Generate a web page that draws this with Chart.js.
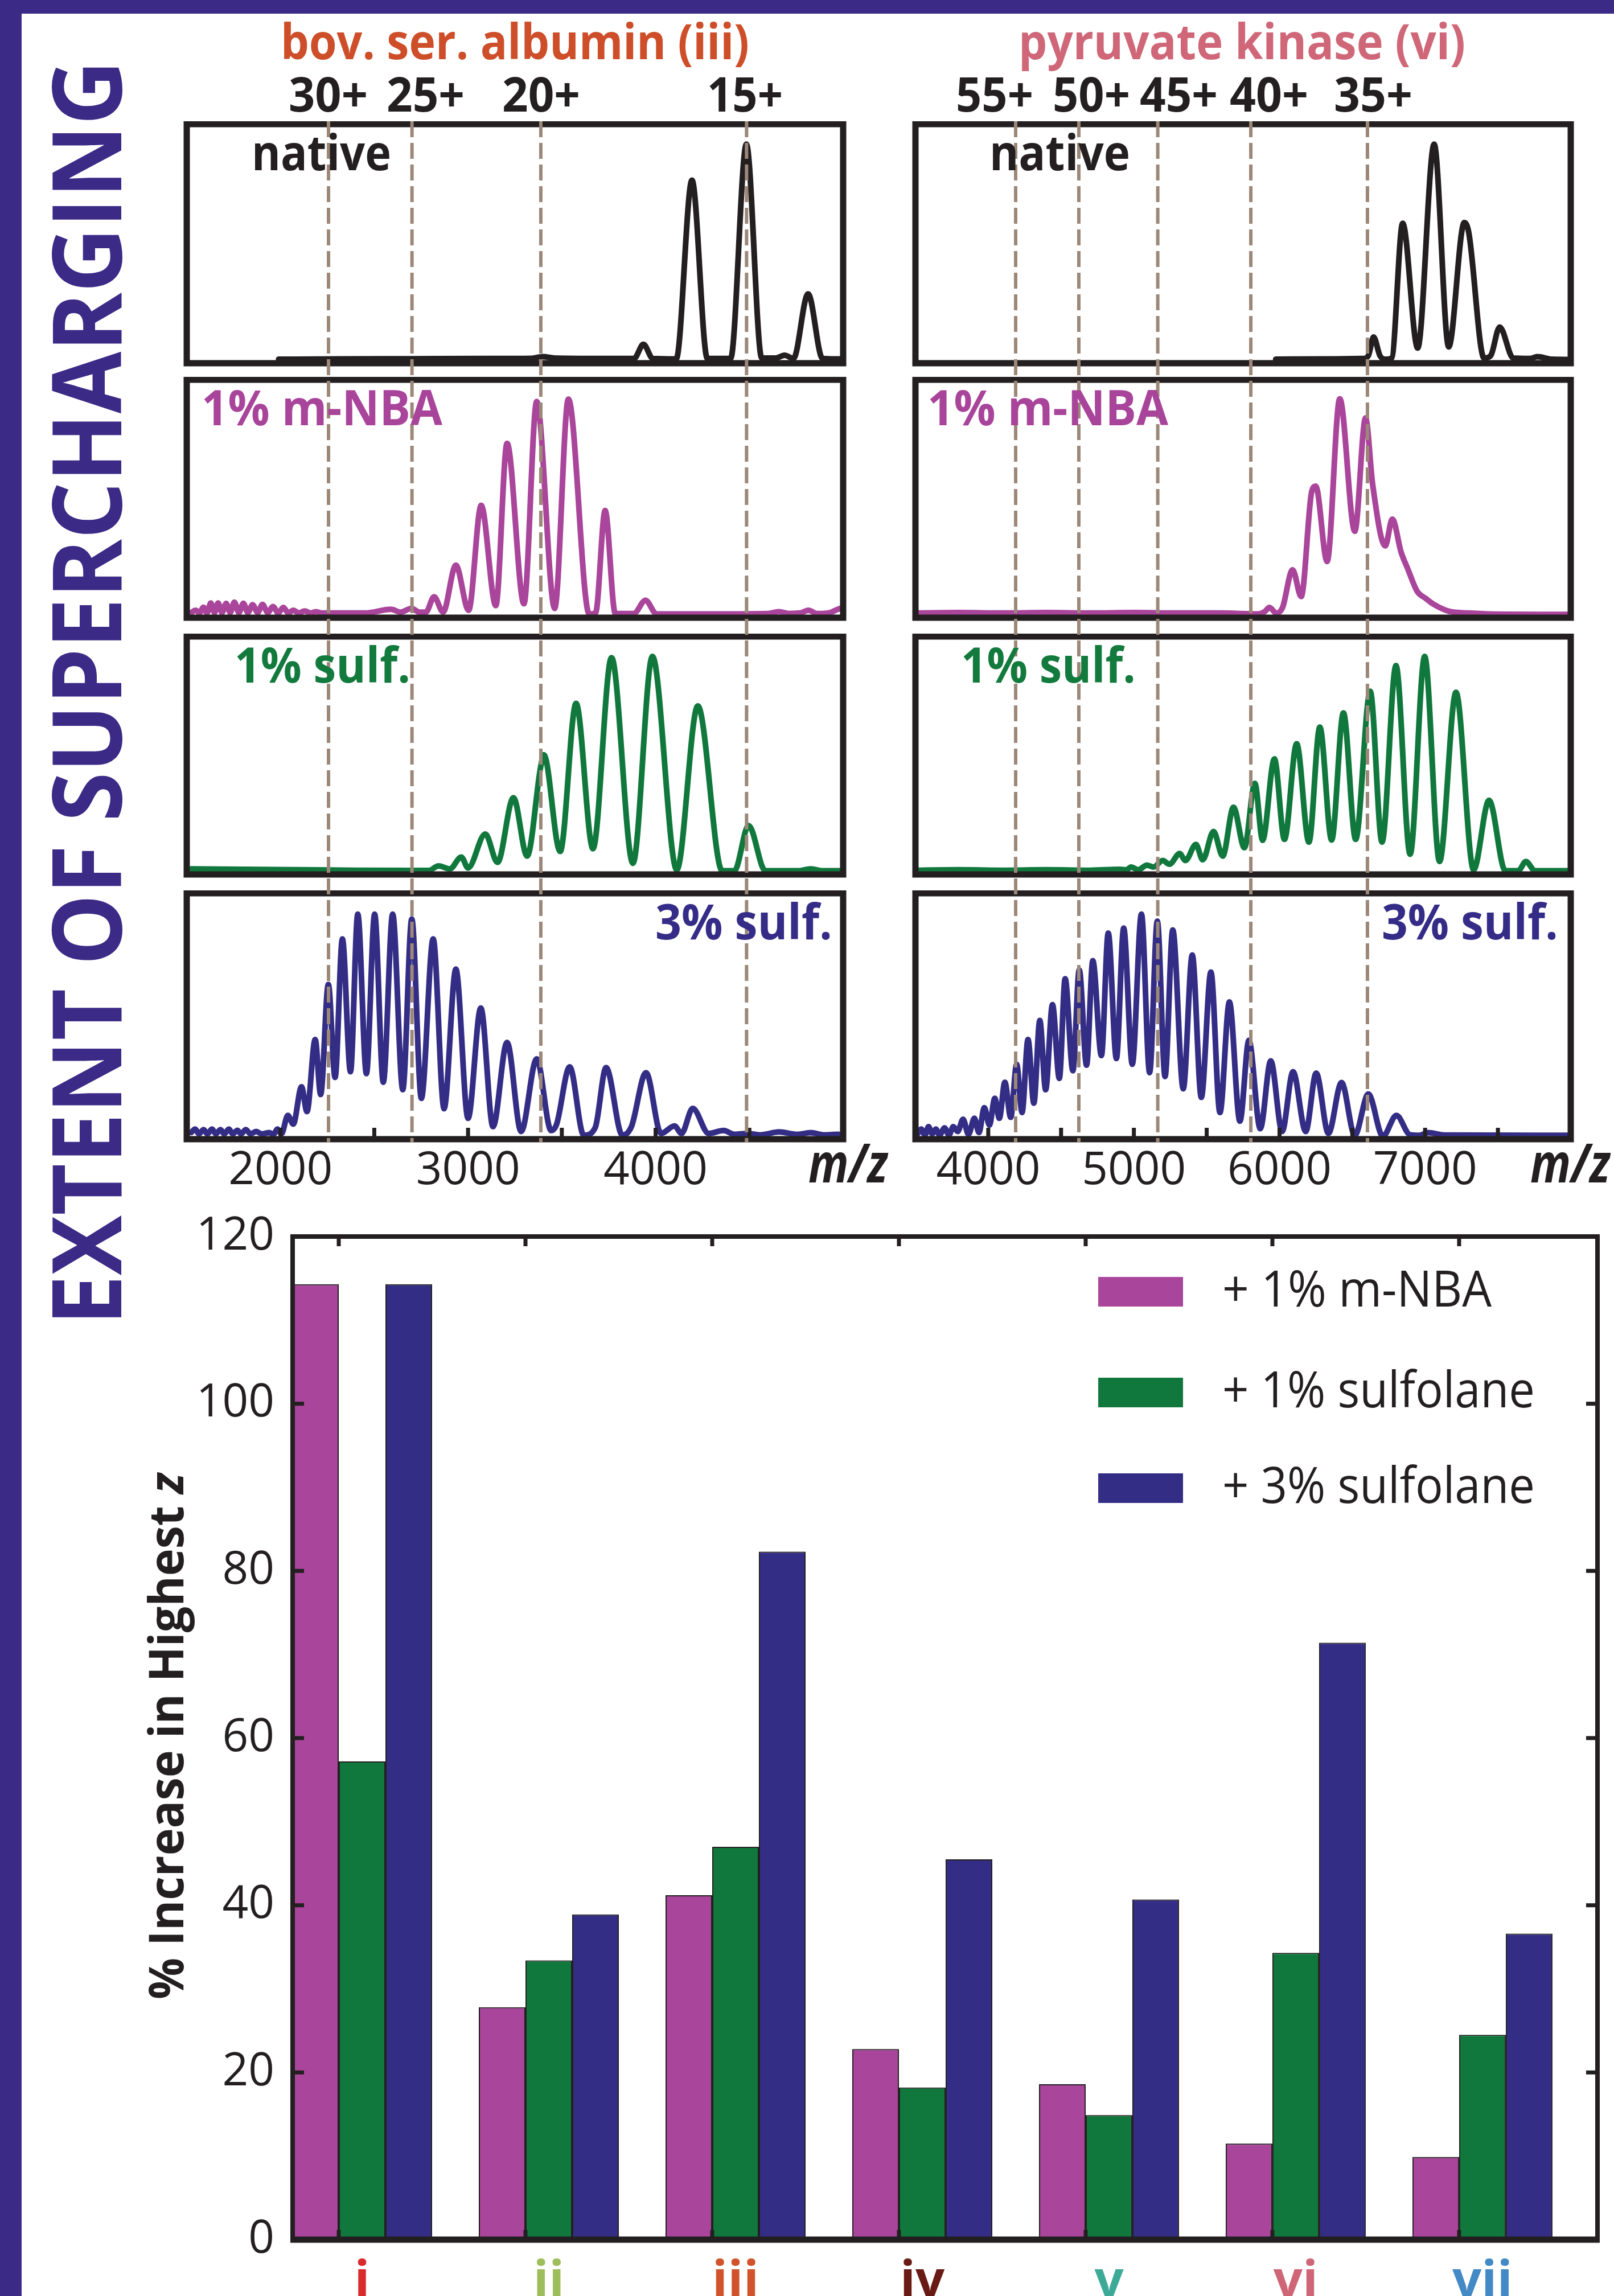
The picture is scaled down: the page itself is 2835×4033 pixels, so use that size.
<!DOCTYPE html>
<html><head><meta charset="utf-8">
<script src="https://cdn.jsdelivr.net/npm/chart.js@4.4.1/dist/chart.umd.min.js"></script>
<style>
html,body{margin:0;padding:0;background:#fff;}
body{width:2835px;height:4033px;position:relative;overflow:hidden;}
canvas{position:absolute;display:block;}
#ov{position:absolute;left:0;top:0;pointer-events:none;}
.frame{position:absolute;background:#3B2A86;}
</style></head><body>
<div class="frame" style="left:0;top:0;width:2835px;height:24px"></div>
<div class="frame" style="left:0;top:0;width:38px;height:4033px"></div>
<svg id="ov" width="2835" height="4033" xmlns="http://www.w3.org/2000/svg" font-family="Open Sans" font-weight="700">
  <text x="493" y="104" font-size="86" fill="#CD4E29" textLength="823" lengthAdjust="spacingAndGlyphs">bov. ser. albumin (iii)</text>
  <text x="1789" y="104" font-size="86" fill="#CF6778" textLength="785" lengthAdjust="spacingAndGlyphs">pyruvate kinase (vi)</text>
  <g font-size="84" fill="#231F20">
    <text x="507" y="196" textLength="139" lengthAdjust="spacingAndGlyphs">30+</text>
    <text x="679" y="196" textLength="137" lengthAdjust="spacingAndGlyphs">25+</text>
    <text x="882" y="196" textLength="137" lengthAdjust="spacingAndGlyphs">20+</text>
    <text x="1242" y="196" textLength="133" lengthAdjust="spacingAndGlyphs">15+</text>
    <text x="1679" y="196" textLength="136" lengthAdjust="spacingAndGlyphs">55+</text>
    <text x="1849" y="196" textLength="136" lengthAdjust="spacingAndGlyphs">50+</text>
    <text x="2002" y="196" textLength="137" lengthAdjust="spacingAndGlyphs">45+</text>
    <text x="2160" y="196" textLength="138" lengthAdjust="spacingAndGlyphs">40+</text>
    <text x="2343" y="196" textLength="138" lengthAdjust="spacingAndGlyphs">35+</text>
  </g>
  <g font-size="86">
    <text x="442" y="299" fill="#231F20" textLength="245" lengthAdjust="spacingAndGlyphs">native</text>
    <text x="1738" y="299" fill="#231F20" textLength="247" lengthAdjust="spacingAndGlyphs">native</text>
    <text x="354" y="747" fill="#A8449A" textLength="423" lengthAdjust="spacingAndGlyphs">1% m-NBA</text>
    <text x="1629" y="747" fill="#A8449A" textLength="423" lengthAdjust="spacingAndGlyphs">1% m-NBA</text>
    <text x="412" y="1199" fill="#127A3D" textLength="309" lengthAdjust="spacingAndGlyphs">1% sulf.</text>
    <text x="1688" y="1199" fill="#127A3D" textLength="307" lengthAdjust="spacingAndGlyphs">1% sulf.</text>
    <text x="1151" y="1650" fill="#352C87" textLength="311" lengthAdjust="spacingAndGlyphs">3% sulf.</text>
    <text x="2427" y="1650" fill="#352C87" textLength="310" lengthAdjust="spacingAndGlyphs">3% sulf.</text>
  </g>
  <g font-size="95" font-style="italic" fill="#231F20">
    <text x="1420" y="2077" textLength="139" lengthAdjust="spacingAndGlyphs">m/z</text>
    <text x="2688" y="2077" textLength="140" lengthAdjust="spacingAndGlyphs">m/z</text>
  </g>
  <text transform="translate(213,2328) rotate(-90)" font-size="168" fill="#3B2A86" textLength="2222" lengthAdjust="spacingAndGlyphs">EXTENT OF SUPERCHARGING</text>
  <text transform="translate(322,3512) rotate(-90)" font-size="84" fill="#231F20" textLength="925" lengthAdjust="spacingAndGlyphs">% Increase in Highest <tspan font-style="italic">z</tspan></text>
</svg>
<script>
// ---------------- DATA ----------------
// Bar chart
const categories = ['i', 'ii', 'iii', 'iv', 'v', 'vi', 'vii'];
const categoryColors = ['#D92A2C', '#9DBE5A', '#D1532B', '#6A1A14', '#3DAA98', '#CF6677', '#4389C6'];
const mnbaIncrease = [114.3, 27.8, 41.2, 22.8, 18.6, 11.5, 9.9];
const sulf1Increase = [57.2, 33.4, 47.0, 18.2, 14.9, 34.3, 24.5];
const sulf3Increase = [114.3, 38.9, 82.3, 45.5, 40.7, 71.4, 36.6];
const barYTicks = [0, 20, 40, 60, 80, 100, 120];
const legendLabels = ['+ 1% m-NBA', '+ 1% sulfolane', '+ 3% sulfolane'];

// Spectra tick labels (m/z)
const bsaTickLabels = [2000, 3000, 4000];
const pkTickLabels = [4000, 5000, 6000, 7000];
// charge-state guide lines (m/z)
const bsaChargeLines = [2256, 2701, 3388, 4485];   // 30+, 25+, 20+, 15+
const pkChargeLines = [4188, 4622, 5164, 5803, 6604]; // 55+, 50+, 45+, 40+, 35+

// Spectra: [m/z, relative intensity]
const bsaNative = [[1990,.005],[2300,.006],[2700,.007],[3100,.008],[3340,.009],[3400,.016],[3460,.01],[3700,.008],[3885,.008],[3935,.069],[3985,.008],[4110,.006],[4194,.772],[4276,.008],[4400,.008],[4484,.926],[4566,.01],[4640,.01],[4688,.022],[4735,.008],[4813,.285],[4890,.008],[4960,.006],[5000,.006]];
const bsaMNBA = [[1524,.01],[1548,.02],[1568,.008],[1589,.033],[1608,.008],[1628,.051],[1648,.01],[1667,.051],[1688,.01],[1710,.049],[1732,.01],[1754,.055],[1778,.01],[1802,.05],[1826,.01],[1851,.044],[1878,.01],[1904,.045],[1932,.01],[1960,.036],[1988,.008],[2015,.032],[2042,.008],[2068,.02],[2098,.008],[2129,.017],[2160,.008],[2189,.014],[2220,.008],[2450,.008],[2589,.024],[2640,.012],[2698,.028],[2740,.012],[2775,.012],[2819,.078],[2867,.012],[2935,.214],[3003,.02],[3070,.471],[3148,.04],[3208,.738],[3298,.048],[3366,.918],[3462,.028],[3535,.929],[3646,.004],[3680,.008],[3731,.449],[3785,.006],[3884,.006],[3946,.063],[4005,.004],[4300,.004],[4600,.006],[4658,.014],[4710,.006],[4770,.008],[4815,.02],[4860,.006],[4930,.01],[4973,.025],[5000,.03]];
const bsaSulf1 = [[1524,.012],[1800,.01],[2100,.008],[2400,.006],[2700,.005],[2790,.005],[2843,.025],[2903,.012],[2964,.063],[3000,.016],[3092,.162],[3157,.04],[3242,.318],[3315,.067],[3387,.45],[3404,.503],[3491,.087],[3576,.724],[3666,.099],[3765,.921],[3879,.036],[3983,.926],[4113,.008],[4225,.713],[4355,.004],[4420,.004],[4496,.198],[4585,.004],[4760,.004],[4827,.012],[4890,.004],[5000,.004]];
const bsaSulf3 = [[1524,.016],[1545,.03],[1565,.01],[1590,.028],[1610,.01],[1635,.03],[1655,.01],[1680,.028],[1700,.01],[1725,.03],[1745,.01],[1770,.025],[1790,.01],[1815,.028],[1840,.01],[1870,.02],[1900,.01],[1940,.015],[1962,.008],[1984,.03],[2005,.01],[2039,.087],[2068,.051],[2112,.206],[2141,.103],[2185,.403],[2214,.174],[2255,.632],[2291,.245],[2330,.822],[2373,.269],[2412,.925],[2458,.261],[2502,.925],[2548,.225],[2598,.925],[2652,.194],[2700,.905],[2751,.158],[2814,.822],[2872,.115],[2935,.696],[3000,.075],[3068,.534],[3133,.04],[3208,.391],[3283,.02],[3366,.322],[3443,.024],[3472,.05],[3542,.289],[3617,.004],[3678,.036],[3736,.286],[3823,.004],[3871,.04],[3949,.265],[4029,.012],[4101,.043],[4138,.012],[4198,.116],[4283,.012],[4363,.024],[4420,.008],[4488,.012],[4560,.006],[4658,.018],[4755,.008],[4827,.015],[4900,.006],[4973,.008],[5000,.006]];
const pkNative = [[5974,.005],[6300,.006],[6573,.008],[6610,.02],[6646,.10],[6690,.02],[6729,.005],[6770,.01],[6846,.587],[6949,.053],[7062,.926],[7162,.058],[7269,.59],[7299,.55],[7405,.01],[7450,.02],[7512,.143],[7605,.01],[7720,.008],[7771,.016],[7871,.005],[8000,.004]];
const pkMNBA = [[3515,.008],[3800,.01],[4100,.008],[4400,.01],[4700,.008],[5000,.01],[5300,.008],[5600,.008],[5853,.004],[5900,.015],[5931,.032],[5977,.008],[6020,.03],[6090,.194],[6149,.079],[6221,.53],[6249,.554],[6327,.23],[6414,.93],[6517,.36],[6591,.847],[6640,.56],[6726,.297],[6775,.412],[6835,.27],[6881,.198],[6944,.103],[7006,.07],[7053,.048],[7162,.016],[7300,.008],[7442,.004],[8000,.002]];
const pkSulf1 = [[3515,.006],[3800,.008],[4100,.006],[4400,.008],[4700,.006],[4900,.01],[4950,.008],[4980,.02],[5030,.008],[5089,.028],[5136,.02],[5198,.048],[5245,.032],[5314,.078],[5354,.048],[5426,.117],[5473,.051],[5547,.173],[5610,.067],[5684,.277],[5759,.103],[5831,.38],[5884,.135],[5965,.485],[6034,.139],[6118,.55],[6202,.127],[6277,.622],[6358,.136],[6439,.683],[6523,.139],[6623,.776],[6704,.127],[6800,.887],[6897,.075],[6997,.926],[7099,.044],[7212,.772],[7333,.008],[7439,.307],[7551,.004],[7640,.004],[7692,.044],[7754,.004],[8000,.004]];
const pkSulf3 = [[3515,.01],[3540,.03],[3565,.005],[3590,.04],[3615,.01],[3640,.03],[3665,.005],[3700,.035],[3730,.005],[3760,.04],[3790,.02],[3827,.071],[3864,.008],[3905,.075],[3936,.016],[3973,.119],[4008,.047],[4045,.158],[4076,.075],[4114,.225],[4154,.079],[4195,.30],[4232,.099],[4273,.403],[4313,.138],[4354,.482],[4394,.194],[4441,.548],[4488,.241],[4528,.656],[4581,.273],[4625,.692],[4675,.296],[4718,.731],[4777,.336],[4824,.846],[4880,.324],[4930,.867],[4989,.30],[5052,.925],[5108,.265],[5161,.896],[5214,.249],[5267,.859],[5339,.198],[5401,.755],[5463,.162],[5529,.684],[5591,.099],[5656,.559],[5728,.063],[5790,.399],[5868,.032],[5940,.314],[6018,.02],[6093,.269],[6180,.02],[6252,.263],[6336,.012],[6426,.224],[6517,.004],[6610,.176],[6710,0],[6803,.087],[6897,.006],[6960,.004],[7022,.015],[7131,.005],[8000,.004]];

// ---------------- STYLE / LAYOUT ----------------
const INK = '#231F20';
const COL_MNBA = '#A9459A', COL_S1 = '#11783D', COL_S3 = '#342D86';
Chart.defaults.font.family = 'Open Sans';

function makeCanvas(left, top, w, h) {
  const c = document.createElement('canvas');
  c.width = w; c.height = h;
  c.style.left = left + 'px'; c.style.top = top + 'px';
  c.style.width = w + 'px'; c.style.height = h + 'px';
  document.body.insertBefore(c, document.getElementById('ov'));
  return c;
}

const DASH_START = 213;
function spectrum(o) {
  const cv = makeCanvas(o.left, o.top, o.w, o.h);
  const deco = {
    id: 'specDeco',
    afterDatasetsDraw(chart) {
      const ctx = chart.ctx, a = chart.chartArea, xs = chart.scales.x;
      ctx.save();
      ctx.strokeStyle = INK; ctx.lineWidth = 11;
      ctx.strokeRect(a.left, a.top, a.right - a.left, a.bottom - a.top);
      if (o.last) {
        ctx.lineWidth = 7;
        xs.ticks.forEach(t => {
          if (t.value > o.xmin && t.value < o.xmax) {
            const px = xs.getPixelForValue(t.value);
            ctx.beginPath(); ctx.moveTo(px, a.bottom - 4); ctx.lineTo(px, a.bottom - 20); ctx.stroke();
          }
        });
      }
      ctx.strokeStyle = '#9C8878'; ctx.lineWidth = 6;
      ctx.setLineDash([28, 10]); ctx.lineDashOffset = o.top - DASH_START;
      const y1 = o.last ? a.bottom + 5 : chart.height;
      o.lines.forEach(v => {
        const px = xs.getPixelForValue(v);
        ctx.beginPath(); ctx.moveTo(px, 0); ctx.lineTo(px, y1); ctx.stroke();
      });
      ctx.restore();
    }
  };
  const areaBottom = 437;
  return new Chart(cv, {
    type: 'line',
    data: { datasets: [{
      data: o.data.map(p => ({ x: p[0], y: p[1] })),
      borderColor: o.color, borderWidth: 10, pointRadius: 0,
      cubicInterpolationMode: 'monotone', borderJoinStyle: 'round', borderCapStyle: 'round', fill: false
    }]},
    options: {
      animation: false, responsive: false, devicePixelRatio: 1,
      layout: { padding: { left: o.padL, right: o.padR, top: 5, bottom: o.last ? 0 : o.h - areaBottom } },
      plugins: { legend: { display: false }, tooltip: { enabled: false } },
      scales: {
        x: {
          type: 'linear', min: o.xmin, max: o.xmax, display: !!o.last,
          grid: { display: false }, border: { display: false },
          afterFit: s => { s.height = o.h - areaBottom; },
          ticks: {
            stepSize: 500, autoSkip: false, maxRotation: 0, padding: 0,
            font: { family: 'Open Sans', size: 80 }, color: INK,
            callback: v => o.labels.includes(v) ? String(v) : ''
          }
        },
        y: { type: 'linear', min: -0.012, max: 1.012, display: false }
      }
    },
    plugins: [deco]
  });
}

const panelTops = [213, 662, 1113, 1564];
const panelHeights = [449, 451, 451, 546];
const bsaSeries = [[bsaNative, INK], [bsaMNBA, COL_MNBA], [bsaSulf1, COL_S1], [bsaSulf3, COL_S3]];
const pkSeries = [[pkNative, INK], [pkMNBA, COL_MNBA], [pkSulf1, COL_S1], [pkSulf3, COL_S3]];
for (let i = 0; i < 4; i++) {
  spectrum({ left: 300, top: panelTops[i], w: 1260, h: panelHeights[i], padL: 28, padR: 79,
    xmin: 1500, xmax: 5000, data: bsaSeries[i][0], color: bsaSeries[i][1],
    lines: bsaChargeLines, labels: bsaTickLabels, last: i === 3 });
  spectrum({ left: 1580, top: panelTops[i], w: 1255, h: panelHeights[i], padL: 28, padR: 76,
    xmin: 3500, xmax: 8000, data: pkSeries[i][0], color: pkSeries[i][1],
    lines: pkChargeLines, labels: pkTickLabels, last: i === 3 });
}

// ---------------- BAR CHART ----------------
const BAR_LEFT = 300, BAR_TOP = 2100;
const legendRowsY = [2269, 2446, 2614];
const legendWidths = [473, 549, 549];
const barDeco = {
  id: 'barDeco',
  afterDatasetsDraw(chart) {
    const { ctx, chartArea: a, scales: { y } } = chart;
    const seg = (x1, y1, x2, y2) => { ctx.beginPath(); ctx.moveTo(x1, y1); ctx.lineTo(x2, y2); ctx.stroke(); };
    ctx.save();
    ctx.strokeStyle = INK; ctx.lineWidth = 7;
    const meta = chart.getDatasetMeta(0);
    meta.data.forEach(bar => {
      const px = bar.x + bar.width / 2;
      seg(px, a.bottom, px, a.bottom - 17);
      seg(px, a.top, px, a.top + 17);
    });
    barYTicks.slice(1, -1).forEach(v => {
      const py = y.getPixelForValue(v);
      seg(a.left, py, a.left + 20, py);
      seg(a.right, py, a.right - 20, py);
    });
    ctx.lineWidth = 8;
    ctx.strokeRect(a.left, a.top, a.right - a.left, a.bottom - a.top);
    ctx.lineWidth = 11;
    seg(a.left - 4, a.bottom, a.right + 4, a.bottom);
    // legend
    ctx.font = '400 87px "Open Sans"';
    ctx.textBaseline = 'alphabetic';
    chart.data.datasets.forEach((ds, i) => {
      const cy = legendRowsY[i] - BAR_TOP;
      ctx.fillStyle = ds.backgroundColor;
      ctx.fillRect(1929 - BAR_LEFT, cy - 26, 149, 52);
      ctx.fillStyle = INK;
      const w = ctx.measureText(ds.label).width;
      ctx.save();
      ctx.translate(2147 - BAR_LEFT, cy + 26);
      ctx.scale(legendWidths[i] / w, 1);
      ctx.fillText(ds.label, 0, 0);
      ctx.restore();
    });
    ctx.restore();
  }
};
const barCv = makeCanvas(BAR_LEFT, BAR_TOP, 2535, 1933);
const toXY = arr => arr.map((v, i) => ({ x: i + 1, y: v }));
new Chart(barCv, {
  type: 'bar',
  data: { datasets: [
    { label: legendLabels[0], data: toXY(mnbaIncrease), backgroundColor: COL_MNBA },
    { label: legendLabels[1], data: toXY(sulf1Increase), backgroundColor: COL_S1 },
    { label: legendLabels[2], data: toXY(sulf3Increase), backgroundColor: COL_S3 }
  ]},
  options: {
    animation: false, responsive: false, devicePixelRatio: 1,
    layout: { padding: { top: 63, right: 29, left: 0, bottom: 0 } },
    plugins: { legend: { display: false }, tooltip: { enabled: false } },
    datasets: { bar: { categoryPercentage: 0.75, barPercentage: 1, borderColor: INK, borderWidth: 2, borderSkipped: 'start' } },
    scales: {
      x: {
        type: 'linear', offset: false, min: 0.628, max: 7.616,
        grid: { display: false }, border: { display: false },
        afterBuildTicks: s => { s.ticks = categories.map((c, i) => ({ value: i + 1 })); },
        afterFit: s => { s.height = 99; },
        ticks: {
          autoSkip: false, maxRotation: 0, padding: 13,
          font: { family: 'Open Sans', size: 90, weight: 'bold' },
          color: c => categoryColors[c.index],
          callback: v => categories[v - 1]
        }
      },
      y: {
        min: 0, max: 120, grid: { display: false }, border: { display: false },
        afterFit: s => { s.width = 214; },
        afterBuildTicks: s => { s.ticks = barYTicks.map(v => ({ value: v })); },
        ticks: { padding: 24, font: { family: 'Open Sans', size: 80 }, color: INK }
      }
    }
  },
  plugins: [barDeco]
});
</script>
</body></html>
